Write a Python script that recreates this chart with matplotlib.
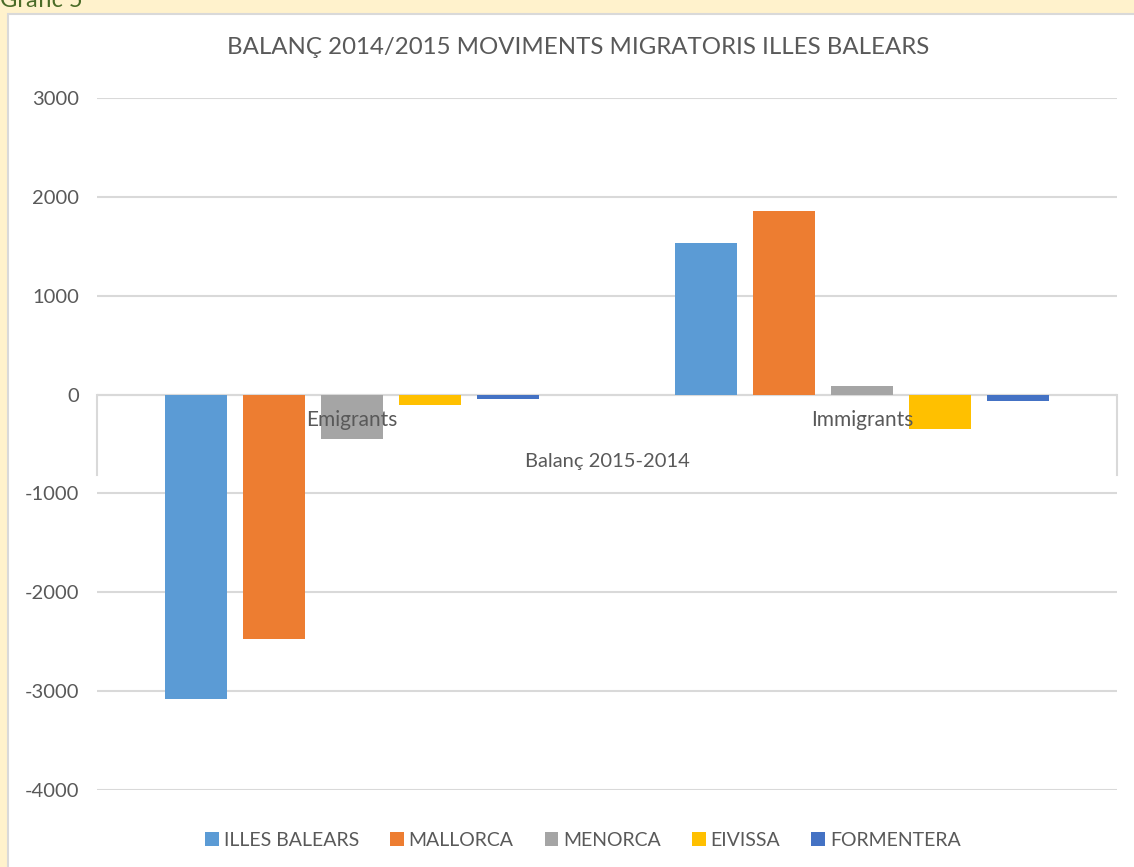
import matplotlib.pyplot as plt
from matplotlib.patches import Rectangle

# Balanç 2015-2014 dels moviments migratoris
categories = ['Emigrants', 'Immigrants']
series = ['ILLES BALEARS', 'MALLORCA', 'MENORCA', 'EIVISSA', 'FORMENTERA']
illes_balears = [-3078, 1530]
mallorca = [-2468, 1860]
menorca = [-449, 87]
eivissa = [-102, -351]
formentera = [-48, -65]
values = [illes_balears, mallorca, menorca, eivissa, formentera]
colors = ['#5B9BD5', '#ED7D31', '#A5A5A5', '#FFC000', '#4472C4']
yticks = [-4000, -3000, -2000, -1000, 0, 1000, 2000, 3000]

plt.rcParams['font.family'] = ['Lato', 'DejaVu Sans']
txt = '#595959'
grid = '#D9D9D9'

W, H = 1134, 867
fig = plt.figure(figsize=(W / 100, H / 100), dpi=100, facecolor='#FFF2CC')

# white chart area with grey border
fig.patches.append(Rectangle((8 / W, -0.05), 1.1, 1 - 14 / H + 0.05,
                             transform=fig.transFigure, facecolor='white',
                             edgecolor=grid, linewidth=1.5, zorder=-5))
fig.text(0.0, 1 - 7 / H, 'Gràfic 5', color='#4a6b27', fontsize=17,
         ha='left', va='baseline')

ax = fig.add_axes([97 / W, 1 - 790 / H, (1117 - 97) / W, (790 - 98) / H])
ax.set_facecolor('none')

width = 0.12
step = 0.153
for i, (name, vals, c) in enumerate(zip(series, values, colors)):
    xs = [k + (i - 2) * step for k in range(len(categories))]
    ax.bar(xs, vals, width=width, color=c, label=name, zorder=2)

ax.set_xlim(-0.5, 1.5)
ax.set_ylim(-4000, 3000)
ax.set_yticks(yticks)
ax.set_yticklabels([str(t) for t in yticks])
ax.tick_params(axis='y', length=0, pad=13, labelsize=14.5, labelcolor=txt)
ax.set_xticks([])
ax.grid(axis='y', color=grid, linewidth=1.5, zorder=0)
for s in ax.spines.values():
    s.set_visible(False)
ax.axhline(0, color=grid, linewidth=1.5, zorder=1)

# multi-level category axis
yt = ax.get_yaxis_transform()
for xa in (0, 1):
    ax.plot([xa, xa], [0, -810], transform=yt, color=grid, linewidth=1.5,
            clip_on=False, zorder=1)
for k, cat in enumerate(categories):
    ax.text(k, -257, cat, ha='center', va='center', color=txt, fontsize=15,
            zorder=3)
ax.text(0.5, -680, 'Balanç 2015-2014', transform=yt, ha='center',
        va='center', color=txt, fontsize=14.5)

fig.text(578 / W, 1 - 48 / H, 'BALANÇ 2014/2015 MOVIMENTS MIGRATORIS ILLES BALEARS',
         ha='center', va='center', color=txt, fontsize=17.3)

fig.legend(loc='center', bbox_to_anchor=(583 / W, 1 - 840 / H), ncol=5,
           frameon=False, handlelength=0.7, handleheight=0.7,
           handletextpad=0.25, columnspacing=1.6, fontsize=14,
           labelcolor=txt)

fig.savefig('out.png', dpi=100, facecolor=fig.get_facecolor())
